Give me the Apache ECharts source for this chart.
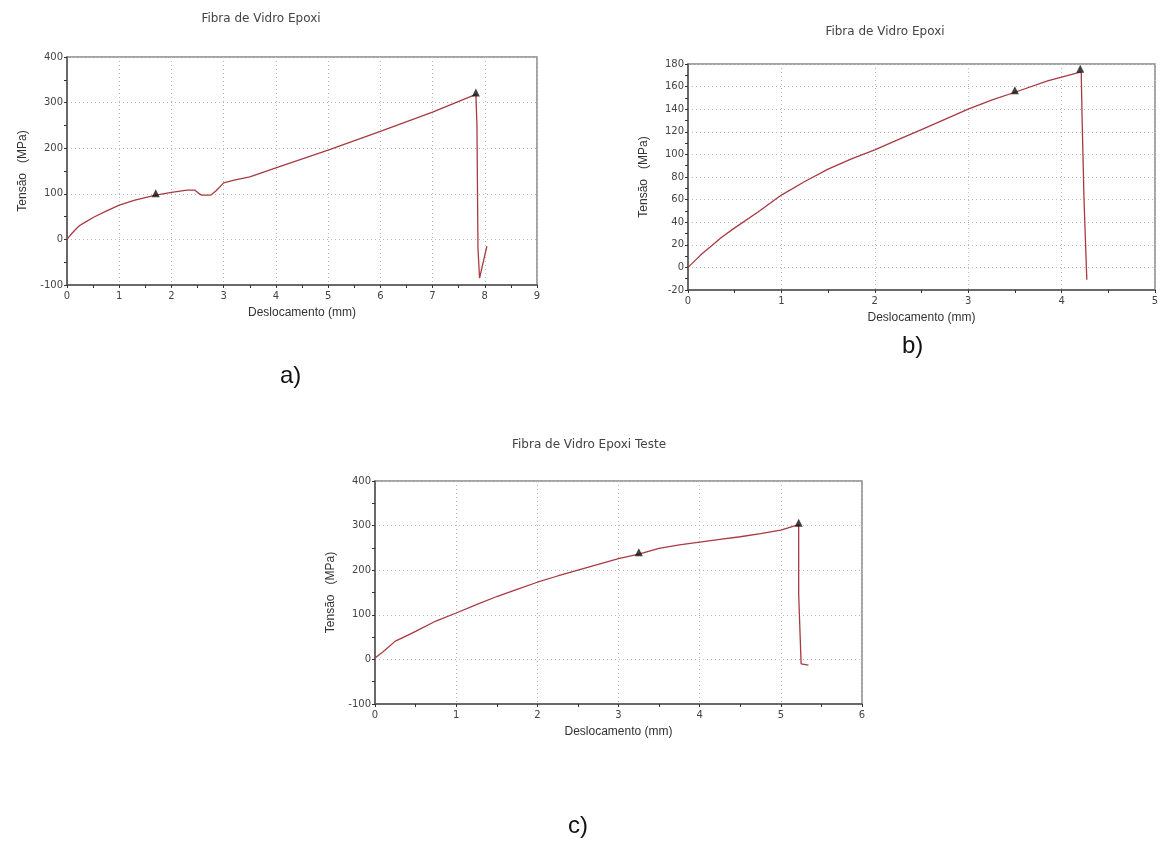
<!DOCTYPE html>
<html>
<head>
<meta charset="utf-8">
<script src="https://cdn.jsdelivr.net/npm/echarts@6/dist/echarts.min.js"></script>
<style>
  html, body { margin: 0; padding: 0; background: #fff; }
  #chart { width: 1162px; height: 854px; }
</style>
</head>
<body>
<div id="chart"></div>
<script>
// ensaio a)
var curveA = [
  [0, 0], [0.05, 7], [0.1, 14], [0.15, 20], [0.2, 26], [0.25, 31], [0.35, 38], [0.5, 48],
  [0.75, 62], [1, 75], [1.3, 86], [1.7, 97], [2, 103], [2.3, 108], [2.45, 108], [2.52, 101],
  [2.58, 97], [2.75, 97], [2.85, 106], [3, 124], [3.2, 130], [3.5, 137], [4, 157], [5, 196],
  [6, 237], [7, 279], [7.83, 318], [7.85, 250], [7.87, -20], [7.9, -85], [8.04, -15]
];
var peaksA = [[1.7, 97], [7.83, 318]];

// ensaio b)
var curveB = [
  [0, 0], [0.05, 4], [0.1, 8], [0.15, 12], [0.25, 19], [0.35, 26], [0.5, 35], [0.75, 49],
  [1, 64], [1.25, 76], [1.5, 87], [1.75, 96], [2, 104], [2.25, 113], [2.5, 122], [2.75, 131],
  [3, 140], [3.25, 148], [3.5, 155], [3.85, 165], [4.21, 173], [4.22, 130], [4.24, 60], [4.27, -11]
];
var peaksB = [[3.5, 155], [4.2, 174]];

// ensaio c)
var curveC = [
  [0, 3], [0.1, 17], [0.25, 41], [0.4, 54], [0.5, 63], [0.75, 86], [1, 104], [1.25, 123],
  [1.5, 141], [1.75, 157], [2, 173], [2.25, 187], [2.5, 200], [2.75, 213], [3, 226], [3.25, 236],
  [3.5, 249], [3.75, 257], [4, 263], [4.25, 269], [4.5, 275], [4.75, 282], [5, 290], [5.22, 302],
  [5.22, 145], [5.24, 145], [5.25, -10], [5.34, -13]
];
var peaksC = [[3.25, 236], [5.22, 302]];

var axisFont = { color: '#444', fontSize: 10, fontFamily: 'DejaVu Sans' };
var nameFont = { color: '#333', fontSize: 12, fontFamily: 'Liberation Sans Narrow, Liberation Sans', fontWeight: 'normal' };

function xAx(idx, max) {
  return {
    type: 'value', gridIndex: idx, min: 0, max: max, interval: 1,
    name: 'Deslocamento (mm)', nameLocation: 'middle', nameGap: 22, nameTextStyle: nameFont,
    axisLine: { onZero: false, lineStyle: { color: '#555', width: 1.5 } },
    axisTick: { show: true, length: 3, lineStyle: { color: '#333' } },
    minorTick: { show: true, splitNumber: 2, length: 3, lineStyle: { color: '#333' } },
    axisLabel: Object.assign({ margin: 6 }, axisFont),
    splitLine: { show: true, lineStyle: { color: '#bbb', type: [1, 3] } }
  };
}
function yAx(idx, min, max, interval, minor) {
  return {
    type: 'value', gridIndex: idx, min: min, max: max, interval: interval,
    name: 'Tensão   (MPa)', nameLocation: 'middle', nameRotate: 90, nameGap: 38, nameTextStyle: nameFont,
    axisLine: { show: true, onZero: false, lineStyle: { color: '#555', width: 1.5 } },
    axisTick: { show: true, length: 3, lineStyle: { color: '#333' } },
    minorTick: { show: true, splitNumber: minor, length: 3, lineStyle: { color: '#333' } },
    axisLabel: Object.assign({ margin: 4 }, axisFont),
    splitLine: { show: true, lineStyle: { color: '#bbb', type: [1, 3] } }
  };
}
function lineS(idx, data) {
  return {
    type: 'line', xAxisIndex: idx, yAxisIndex: idx, data: data, showSymbol: false,
    lineStyle: { color: '#a83a40', width: 1.3 }, animation: false
  };
}
function peakS(idx, data) {
  return {
    type: 'scatter', xAxisIndex: idx, yAxisIndex: idx, data: data, symbol: 'triangle',
    symbolSize: 8, symbolOffset: [0, -2], itemStyle: { color: '#111' }, z: 5, animation: false
  };
}
var titleFont = { color: '#444', fontSize: 12, fontWeight: 'normal', fontFamily: 'DejaVu Sans' };
var labelFont = { fontSize: 24, fontFamily: 'Liberation Sans Narrow, Liberation Sans', fill: '#111' };

var myChart = echarts.init(document.getElementById('chart'));
myChart.setOption({
  backgroundColor: '#fff',
  animation: false,
  title: [
    { text: 'Fibra de Vidro Epoxi', left: 256, top: 8, textAlign: 'center', textStyle: titleFont },
    { text: 'Fibra de Vidro Epoxi', left: 880, top: 21, textAlign: 'center', textStyle: titleFont },
    { text: 'Fibra de Vidro Epoxi Teste', left: 584, top: 434, textAlign: 'center', textStyle: titleFont }
  ],
  grid: [
    { left: 67, top: 57, width: 470, height: 228, show: true, borderColor: '#888', borderWidth: 1.5 },
    { left: 688, top: 64, width: 467, height: 226, show: true, borderColor: '#888', borderWidth: 1.5 },
    { left: 375, top: 481, width: 487, height: 223, show: true, borderColor: '#888', borderWidth: 1.5 }
  ],
  xAxis: [xAx(0, 9), xAx(1, 5), xAx(2, 6)],
  yAxis: [yAx(0, -100, 400, 100, 2), yAx(1, -20, 180, 20, 2), yAx(2, -100, 400, 100, 2)],
  series: [
    lineS(0, curveA), peakS(0, peaksA),
    lineS(1, curveB), peakS(1, peaksB),
    lineS(2, curveC), peakS(2, peaksC)
  ],
  graphic: [
    { type: 'text', left: 280, top: 364, style: Object.assign({ text: 'a)' }, labelFont) },
    { type: 'text', left: 902, top: 334, style: Object.assign({ text: 'b)' }, labelFont) },
    { type: 'text', left: 568, top: 814, style: Object.assign({ text: 'c)' }, labelFont) }
  ]
});
</script>
</body>
</html>
